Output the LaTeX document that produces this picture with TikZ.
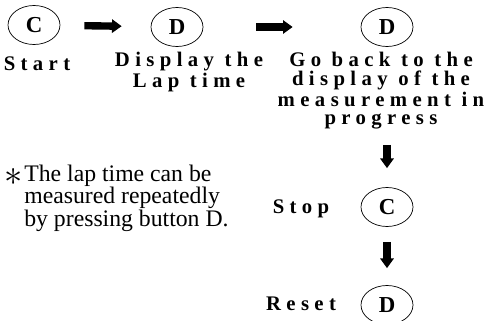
\documentclass[tikz,border=0pt]{standalone}
\usepackage{fontspec}
\setmainfont{Liberation Serif}
\newfontfamily\spacedfont[LetterSpace=26]{Liberation Serif}
\usetikzlibrary{shapes.geometric,arrows.meta}

\tikzset{
  key/.style={ellipse, draw, thin, minimum width=1.04cm, minimum height=0.78cm, inner sep=0pt,
    font=\bfseries\fontsize{13}{13}\selectfont},
  lbl/.style={align=center, inner sep=0pt, font=\spacedfont\bfseries\fontsize{11.8}{10.6}\selectfont},
  fat arrow/.style={line width=4.2pt, -{Triangle[length=5.5pt,width=7.5pt]}}
}

\begin{document}
\begin{tikzpicture}[x=0.02cm, y=-0.02cm]
  \useasboundingbox (0,0) rectangle (487,321);

  % Draw the buttons
  \node[key] (start) at (34,25) {C};
  \node[key] (lap) at (177,27) {D};
  \node[key] (back) at (387,27) {D};
  \node[key] (stop) at (387,207) {C};
  \node[key] (reset) at (387,305) {D};

  % Draw the labels
  \node[lbl] (startlbl) at (37,64) {Start};
  \node[lbl] (laplbl) at (189,72) {Display the\\Lap time};
  \node[lbl] (backlbl) at (381,91) {Go back to the\\display of the\\measurement in\\progress};
  \node[lbl] (stoplbl) at (301,209) {Stop};
  \node[lbl] (resetlbl) at (301,304) {Reset};

  % Draw the note
  \node[anchor=north west, inner sep=0pt, align=left, font=\fontsize{13.5}{12.6}\selectfont]
    (note) at (24,165) {The lap time can be\\measured repeatedly\\by pressing button D.};
  \node[font=\fontsize{22}{22}\selectfont] (star) at (14,177) {$\ast$};

  % Draw the arrows
  \draw[fat arrow, shorten <=0.48cm, shorten >=0.58cm] (start) -- (lap);
  \draw[fat arrow, shorten <=1.06cm, shorten >=1.36cm] (lap) -- (back);
  \draw[fat arrow, shorten <=0.3cm, shorten >=0.38cm] (backlbl.south -| stop.north) -- (stop.north);
  \draw[fat arrow, shorten <=0.3cm, shorten >=0.34cm] (stop) -- (reset);

\end{tikzpicture}
\end{document}
